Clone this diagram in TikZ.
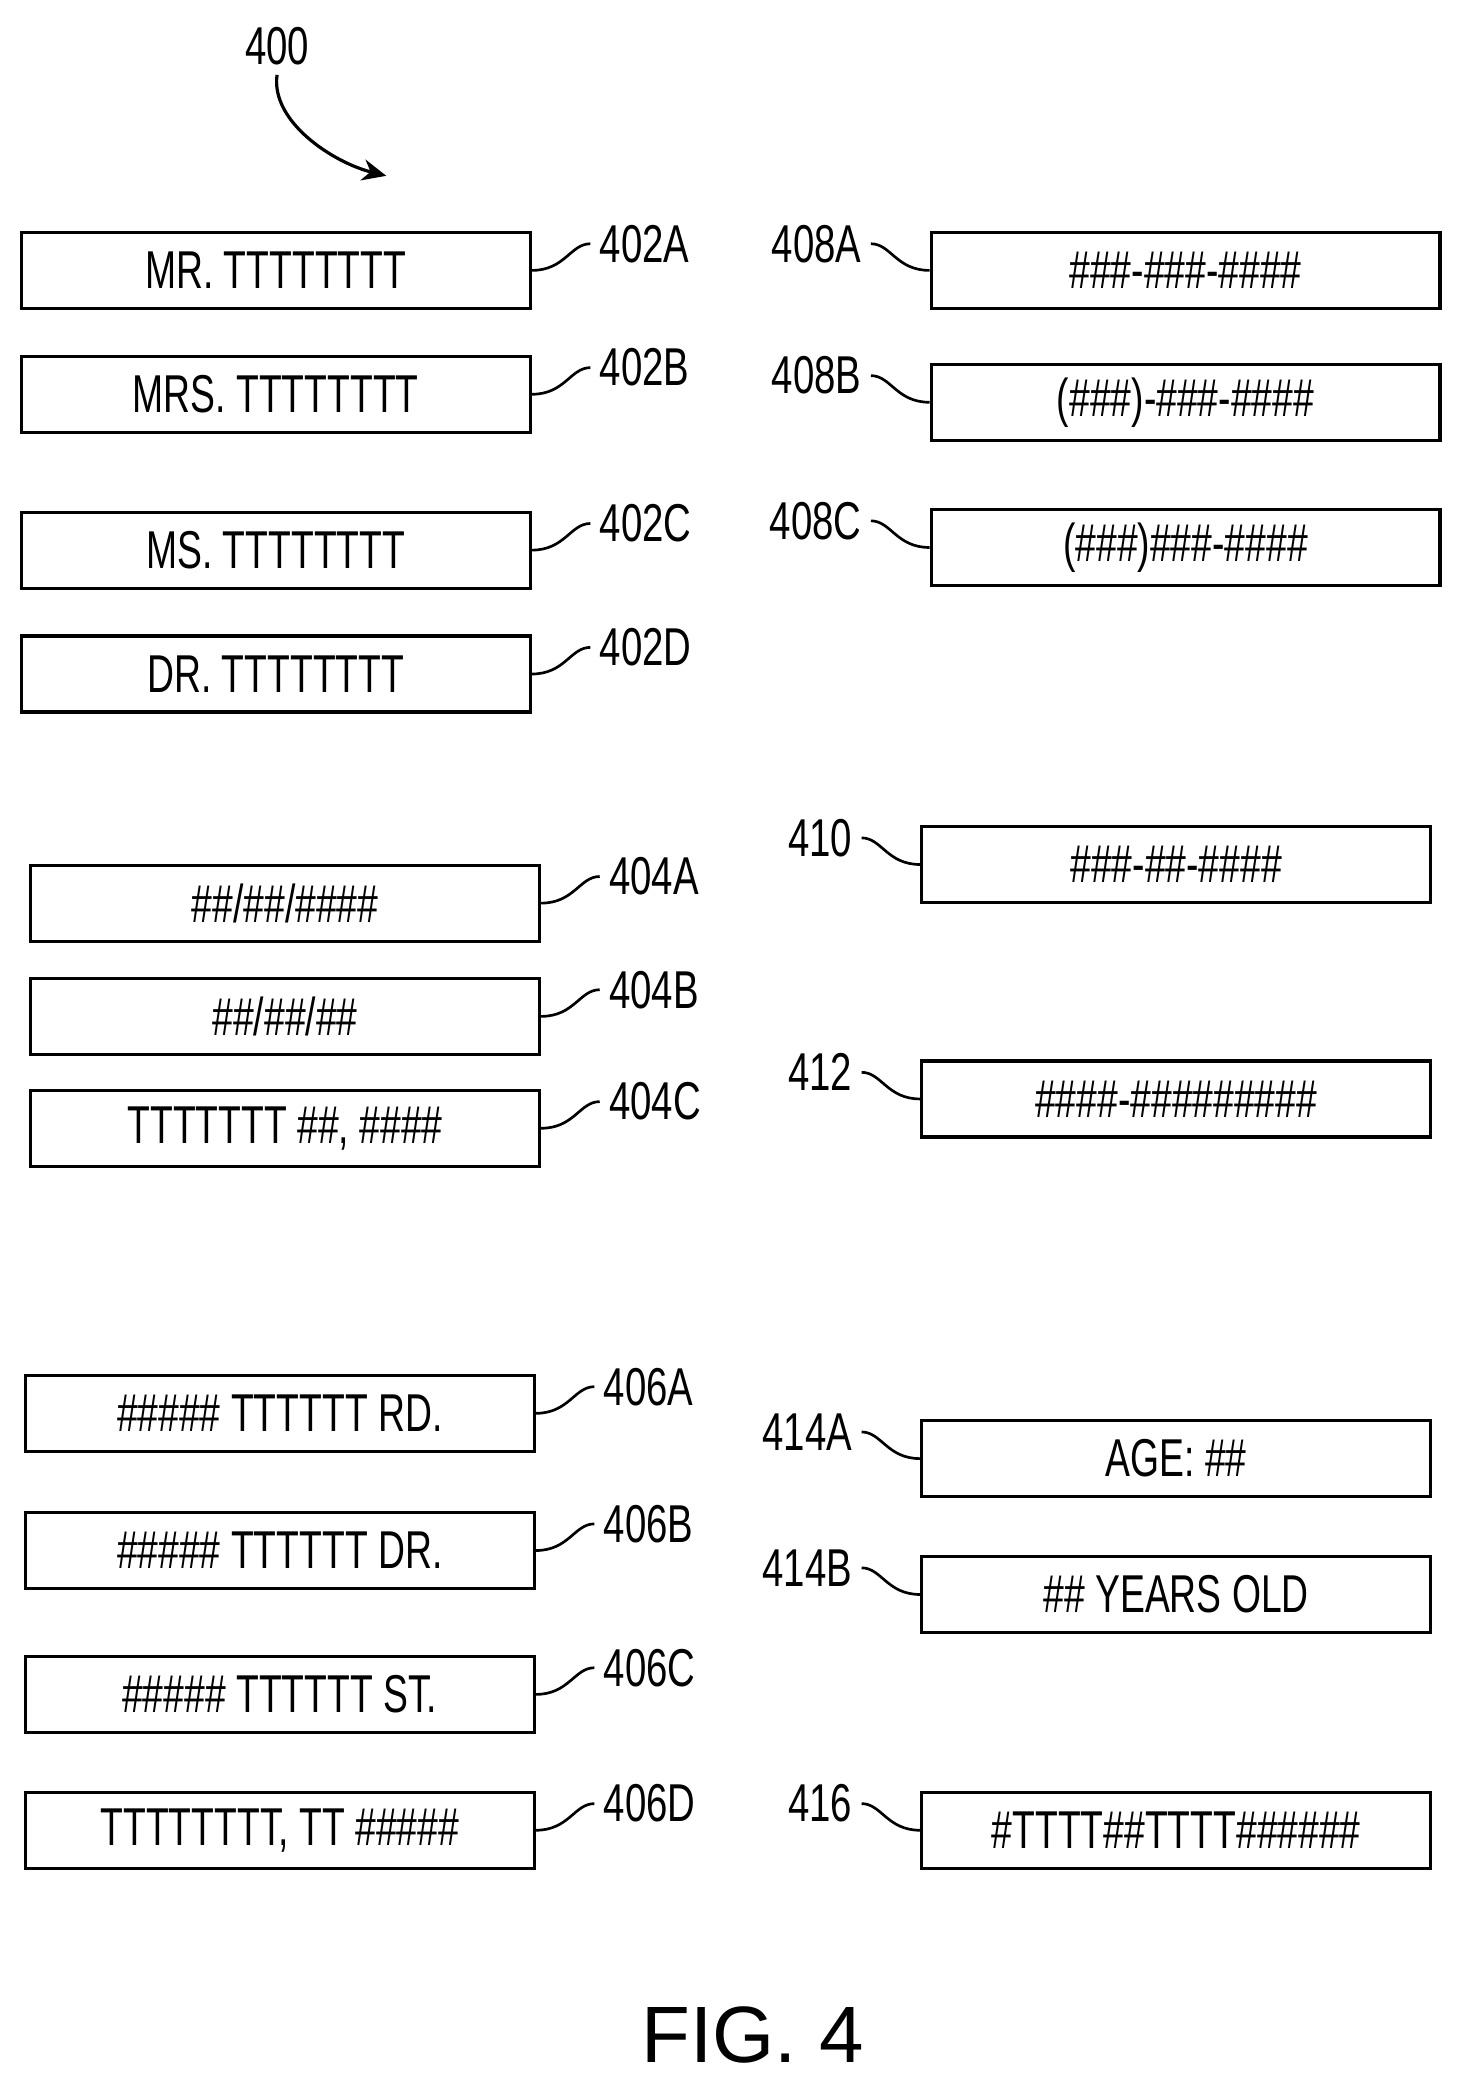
\documentclass[tikz,border=0pt]{standalone}
\usepackage{fontspec}
\setmainfont{Liberation Sans}
\usetikzlibrary{arrows.meta}
\begin{document}
\begin{tikzpicture}[x=0.5pt,y=-0.5pt,
	fld/.style={draw,line width=1.2pt,minimum width=191pt,minimum height=28.5pt,inner sep=0pt,font=\fontsize{20}{20}\selectfont},
	num/.style={font=\fontsize{20}{20}\selectfont,xscale=0.72},
	lead/.style={line width=1pt}]
	\useasboundingbox (0,0) rectangle (1100,1572);
	%left column boxes
	\foreach \nm/\x/\y/\txt in {402A/207/203/{MR. TTTTTTTT},402B/207/296/{MRS. TTTTTTTT},402C/207/413/{MS. TTTTTTTT},402D/207/506/{DR. TTTTTTTT},
		404A/214/678/{\#\#/\#\#/\#\#\#\#},404B/214/763/{\#\#/\#\#/\#\#},404C/214/847/{TTTTTTT \#\#, \#\#\#\#},
		406A/210/1061/{\#\#\#\#\# TTTTTT RD.},406B/210/1164/{\#\#\#\#\# TTTTTT DR.},406C/210/1272/{\#\#\#\#\# TTTTTT ST.},406D/210/1374/{TTTTTTTT, TT \#\#\#\#\#}}{
		\node[fld] (b\nm) at (\x,\y) {\scalebox{0.7}[1]{\txt}};
		\node[num,anchor=west] (l\nm) at ([shift={(46,-20)}]b\nm.east) {\nm};
		\draw[lead] (b\nm.east) .. controls +(25,0) and +(-15,0) .. ([xshift=-1]l\nm.west);
	}
	%right column boxes
	\foreach \nm/\x/\y/\txt in {408A/890/203/{\#\#\#-\#\#\#-\#\#\#\#},408B/890/302/{(\#\#\#)-\#\#\#-\#\#\#\#},408C/890/411/{(\#\#\#)\#\#\#-\#\#\#\#},
		410/883/649/{\#\#\#-\#\#-\#\#\#\#},412/883/825/{\#\#\#\#-\#\#\#\#\#\#\#\#\#},
		414A/883/1095/{AGE: \#\#},414B/883/1197/{\#\# YEARS OLD},416/883/1374/{\#TTTT\#\#TTTT\#\#\#\#\#\#}}{
		\node[fld] (b\nm) at (\x,\y) {\scalebox{0.7}[1]{\txt}};
		\node[num,anchor=east] (l\nm) at ([shift={(-46,-20)}]b\nm.west) {\nm};
		\draw[lead] (b\nm.west) .. controls +(-25,0) and +(15,0) .. ([xshift=1]l\nm.east);
	}
	%figure number
	\node[num] (l400) at (208,35) {400};
	\coordinate (a400) at (290,132);
	\draw[line width=1.2pt,-{Stealth[length=9pt,width=8pt]}] (l400.south) .. controls +(-5,35) and +(-40,-10) .. (a400);
	\node[font=\fontsize{30}{30}\selectfont] (fig) at (565,1528) {FIG. 4};
\end{tikzpicture}
\end{document}
